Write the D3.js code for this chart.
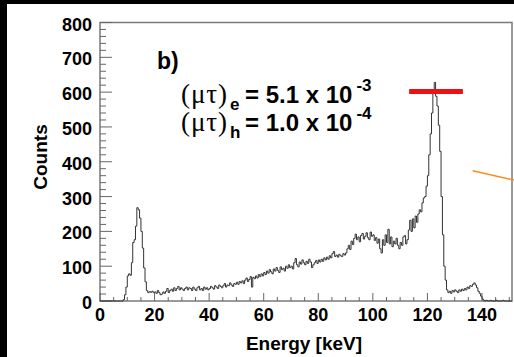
<!DOCTYPE html>
<html>
<head>
<meta charset="utf-8">
<script src="https://cdn.jsdelivr.net/npm/d3@7"></script>
<style>
  html, body { margin: 0; padding: 0; background: #fff; }
  svg { display: block; }
  text { font-family: "Liberation Sans", Arial, Helvetica, sans-serif; font-weight: bold; fill: #000; }
  text.greek { font-family: "Liberation Serif", "Times New Roman", serif; font-weight: normal; }
</style>
</head>
<body>
<svg id="chart" width="514" height="357"></svg>
<script>
// Energy spectrum, 0.5 keV bins starting at 0 keV (counts per bin)
const binWidth = 0.5;
const counts = [
  // 0 - 9.5 keV
  0,0,0,0,0,0,0,0,0,0, 0,0,0,0,0,0,0,4,18,40,
  // 10 - 19.5 keV
  72,78,74,110,168,176,215,268,262,238, 200,152,95,55,30,24,27,25,28,24,
  // 20 - 29.5 keV
  26,22,30,24,18,20,26,22,28,36, 24,30,34,28,38,30,36,42,32,38,
  // 30 - 39.5 keV
  34,30,36,40,32,38,36,30,40,34, 30,38,42,32,36,30,40,34,38,32,
  // 40 - 49.5 keV
  36,42,38,34,44,40,36,46,42,38, 44,50,40,46,44,52,46,42,50,48,
  // 50 - 59.5 keV
  54,48,56,52,58,50,60,66,56,62, 70,40,68,64,72,66,76,70,78,72,
  // 60 - 69.5 keV
  82,76,86,80,90,84,78,92,86,96, 88,82,98,90,94,86,100,94,104,96,
  // 70 - 79.5 keV
  100,92,110,122,104,98,112,106,118,110, 104,114,108,120,112,96,104,110,116,108,
  // 80 - 89.5 keV
  118,112,120,114,124,118,126,120,130,124, 136,142,128,132,126,134,130,128,136,132,
  // 90 - 99.5 keV
  138,150,160,148,172,162,180,192,176,184, 170,188,194,178,186,196,182,176,198,186,
  // 100 - 109.5 keV
  190,174,182,166,178,150,138,176,160,190, 168,206,164,184,156,172,164,180,160,150,
  // 110 - 119.5 keV
  168,160,184,188,164,176,204,232,200,236, 210,244,226,250,262,256,282,296,300,330,
  // 120 - 129.5 keV
  360,420,480,540,600,628,588,560,505,430, 300,190,100,60,32,24,28,22,30,26,
  // 130 - 139.5 keV
  32,28,24,32,28,34,30,36,32,40, 36,44,42,48,52,46,38,28,22,14,
  // 140 - 149.5 keV
  6,2,0,2,0,0,2,0,0,0, 2,0,0,0,0,2,0,0,0,0,
  // 150 - 151 keV
  0,0
];

const xTicks = [0, 20, 40, 60, 80, 100, 120, 140];
const yTicks = [0, 100, 200, 300, 400, 500, 600, 700, 800];

// Peak-height marker (keV range, counts) and guide line (keV, counts)
const peakMark = { e0: 113.3, e1: 133.0, c: 602 };
const guideLine = [[136.6, 374], [152.5, 346]];

const svg = d3.select("#chart");
const W = 514, H = 357;

// outer dark border strips
svg.append("rect").attr("x", 0).attr("y", 0).attr("width", W).attr("height", 4).attr("fill", "#000");
svg.append("rect").attr("x", 0).attr("y", 0).attr("width", 7).attr("height", H).attr("fill", "#000");

const x = d3.scaleLinear().domain([0, 151]).range([100, 512]);
const y = d3.scaleLinear().domain([0, 800]).range([301, 22.5]);

// frame
svg.append("rect")
  .attr("x", x(0)).attr("y", y(800))
  .attr("width", x(151) - x(0)).attr("height", y(0) - y(800))
  .attr("fill", "none").attr("stroke", "#7a7a7a").attr("stroke-width", 1.5);

// minor/major ticks
const yMinor = d3.range(0, 801, 20);
svg.append("g").selectAll("line").data(yMinor).join("line")
  .attr("x1", x(0)).attr("x2", d => x(0) + (d % 100 === 0 ? 12 : 6))
  .attr("y1", d => y(d)).attr("y2", d => y(d))
  .attr("stroke", "#666").attr("stroke-width", 1);

const xMinor = d3.range(0, 151, 5);
svg.append("g").selectAll("line").data(xMinor).join("line")
  .attr("x1", d => x(d)).attr("x2", d => x(d))
  .attr("y1", y(0)).attr("y2", d => y(0) - (d % 20 === 0 ? 8 : 4))
  .attr("stroke", "#666").attr("stroke-width", 1);

// tick labels
svg.append("g").selectAll("text").data(yTicks).join("text")
  .attr("x", 92).attr("y", d => y(d) + 8)
  .attr("text-anchor", "end").attr("font-size", 18)
  .text(d => d);

svg.append("g").selectAll("text").data(xTicks).join("text")
  .attr("x", d => x(d)).attr("y", 321)
  .attr("text-anchor", "middle").attr("font-size", 18)
  .text(d => d);

// axis titles
svg.append("text").attr("x", 304).attr("y", 350)
  .attr("text-anchor", "middle").attr("font-size", 19).text("Energy [keV]");
svg.append("text").attr("transform", "translate(47,157) rotate(-90)")
  .attr("text-anchor", "middle").attr("font-size", 19).text("Counts");

// histogram as a step line
const pts = counts.map((c, i) => [i * binWidth, c]);
pts.push([counts.length * binWidth, counts[counts.length - 1]]);
const step = d3.line()
  .x(d => x(Math.min(d[0], 151)))
  .y(d => y(d[1]))
  .curve(d3.curveStepAfter);
svg.append("path").datum(pts)
  .attr("d", step)
  .attr("fill", "none").attr("stroke", "#333").attr("stroke-width", 1);

// peak marker
svg.append("line")
  .attr("x1", x(peakMark.e0)).attr("x2", x(peakMark.e1))
  .attr("y1", y(peakMark.c)).attr("y2", y(peakMark.c))
  .attr("stroke", "#ee1111").attr("stroke-width", 5);

// guide line
svg.append("line")
  .attr("x1", x(guideLine[0][0])).attr("y1", y(guideLine[0][1]))
  .attr("x2", x(guideLine[1][0])).attr("y2", y(guideLine[1][1]))
  .attr("stroke", "#ff8a1a").attr("stroke-width", 1.5);

// panel tag and mobility-lifetime products
svg.append("text").attr("x", 157).attr("y", 69).attr("font-size", 23).text("b)");

function muTau(yBase, sub, mant, expo) {
  const g = svg.append("g");
  g.append("text").attr("class", "greek").attr("x", 181).attr("y", yBase)
    .attr("font-size", 27).attr("textLength", 46)
    .text("(\u03bc\u03c4)");
  g.append("text").attr("x", 230).attr("y", yBase + 7).attr("font-size", 17).text(sub);
  const t = g.append("text").attr("x", 245).attr("y", yBase).attr("font-size", 24)
    .text("= " + mant + " x 10");
  t.append("tspan").attr("font-size", 17).attr("dy", -12).attr("dx", 4).text(expo);
}
muTau(103, "e", "5.1", "-3");
muTau(131, "h", "1.0", "-4");
</script>
</body>
</html>
